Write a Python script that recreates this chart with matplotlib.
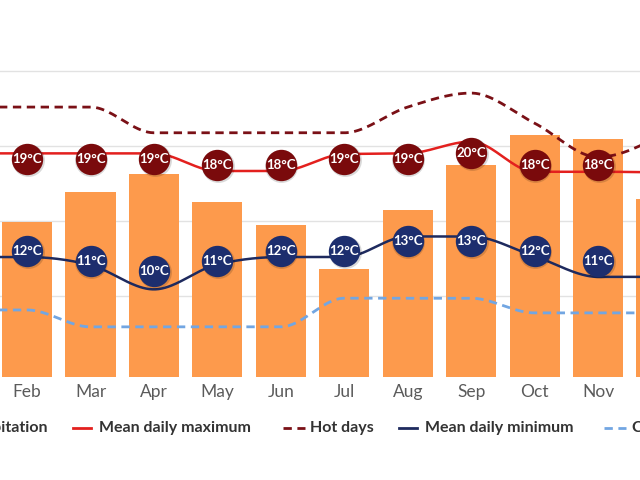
import numpy as np
import matplotlib
matplotlib.use("Agg")
import matplotlib.pyplot as plt

plt.rcParams['font.family'] = ['Lato', 'DejaVu Sans']

# monthly climate values (temperature in degC, precipitation in mm)
months = ["Jan", "Feb", "Mar", "Apr", "May", "Jun",
          "Jul", "Aug", "Sep", "Oct", "Nov", "Dec"]
precipitation = [80, 93, 111, 122, 105, 91, 65, 100, 127, 145, 143, 107]
mean_max = [19.05, 19.05, 19.05, 19.05, 17.85, 17.85,
            19.0, 19.05, 19.85, 17.8, 17.8, 17.75]
hot_days = [22.2, 22.2, 22.2, 20.45, 20.45, 20.45,
            20.45, 22.2, 23.15, 21.1, 18.8, 20.3]
mean_min = [12.0, 12.0, 11.45, 9.8, 11.5, 12.0,
            12.0, 13.4, 13.4, 12.05, 10.65, 10.65]
cold_nights = [8.4, 8.4, 7.25, 7.25, 7.25, 7.25,
               9.2, 9.2, 9.2, 8.2, 8.2, 8.2]
max_labels = [19, 19, 19, 19, 18, 18, 19, 19, 20, 18, 18, 18]
min_labels = [12, 12, 11, 10, 11, 12, 12, 13, 13, 12, 11, 11]

BAR_COLOR = "#fd9a4c"
MAX_COLOR = "#e3201e"
HOT_COLOR = "#7a1016"
MIN_COLOR = "#1e2a5e"
COLD_COLOR = "#72a6e2"
MAX_BUBBLE = "#7a0a0c"
MIN_BUBBLE = "#1d2e6e"
GRID = [9.35, 14.45, 19.55, 24.65]
T_LIM = (3.84, 25.4)
P_TOP = 190.2


def monotone(y, n=40):
    # monotone cubic interpolation (same idea as d3.curveMonotoneX)
    y = np.asarray(y, dtype=float)
    x = np.arange(len(y), dtype=float)
    s = np.diff(y)
    t = np.zeros(len(y))
    for i in range(1, len(y) - 1):
        s0, s1 = s[i - 1], s[i]
        p = (s0 + s1) / 2
        t[i] = (np.sign(s0) + np.sign(s1)) * min(abs(s0), abs(s1), 0.5 * abs(p))
    t[0] = (3 * s[0] - t[1]) / 2
    t[-1] = (3 * s[-1] - t[-2]) / 2
    xs, ys = [], []
    for i in range(len(y) - 1):
        u = np.linspace(0, 1, n, endpoint=False)
        h00 = 2 * u**3 - 3 * u**2 + 1
        h10 = u**3 - 2 * u**2 + u
        h01 = -2 * u**3 + 3 * u**2
        h11 = u**3 - u**2
        xs.append(x[i] + u)
        ys.append(h00 * y[i] + h10 * t[i] + h01 * y[i + 1] + h11 * t[i + 1])
    xs.append([x[-1]])
    ys.append([y[-1]])
    return np.concatenate(xs), np.concatenate(ys)


fig = plt.figure(figsize=(6.4, 4.8), dpi=100)
# the chart is wider than the picture, Jan and Dec fall outside
ax = fig.add_axes([-0.1064, 1 - 377 / 480, 1.1895, 317 / 480])
ax_p = ax.twinx()
ax.set_zorder(2)
ax_p.set_zorder(1)
ax.patch.set_visible(False)

x = np.arange(len(months))
ax_p.bar(x, precipitation, width=0.79, color=BAR_COLOR, zorder=1)
ax_p.set_ylim(0, P_TOP)
ax_p.set_yticks([])
# grid lines sit below the bars, so they go on the bar axes
for gy in GRID:
    ax_p.axhline((gy - T_LIM[0]) / (T_LIM[1] - T_LIM[0]) * P_TOP,
                 color="#e2e2e2", lw=1, zorder=0)

ax.set_xlim(-0.5, 11.5)
ax.set_ylim(*T_LIM)
ax.set_yticks([])
for a in (ax, ax_p):
    for sp in a.spines.values():
        sp.set_visible(False)
    a.tick_params(length=0, labelleft=False, labelright=False, labelbottom=False)

xs, ys = monotone(cold_nights)
ax.plot(xs, ys, color=COLD_COLOR, lw=2, dashes=(3, 2), zorder=3)
xs, ys = monotone(hot_days)
ax.plot(xs, ys, color=HOT_COLOR, lw=2, dashes=(3, 2), zorder=3)
xs, ys = monotone(mean_min)
ax.plot(xs, ys, color=MIN_COLOR, lw=1.8, zorder=3)
xs, ys = monotone(mean_max)
ax.plot(xs, ys, color=MAX_COLOR, lw=1.8, zorder=3)


def in_view(xi):
    # Jan and Dec are outside the cropped picture, skip their texts
    px = ax.transData.transform((xi, T_LIM[0]))[0]
    return 0 <= px <= fig.bbox.width


def bubbles(labels, anchor, centre, k, color):
    lab = np.asarray(labels, dtype=float)
    # bubbles are pulled together a bit toward the middle of the series
    yb = anchor + k * (lab - centre)
    ax.scatter(x + 0.01, yb - 0.06, s=560, color="black", alpha=0.15,
               linewidths=0, zorder=4)
    ax.scatter(x, yb, s=510, color=color, linewidths=0, zorder=5)
    for xi, yi, v in zip(x, yb, labels):
        if in_view(xi):
            ax.text(xi, yi, f"{v}°C", color="white", fontsize=9.5,
                    fontweight="bold", ha="center", va="center", zorder=6)


bubbles(max_labels, 18.53, 18.7, 0.40, MAX_BUBBLE)
bubbles(min_labels, 12.2, 11.7, 0.67, MIN_BUBBLE)

trans = ax.get_xaxis_transform()
for xi, m in zip(x, months):
    if in_view(xi):
        ax.text(xi, -15 / 317, m, transform=trans, ha="center", va="center",
                fontsize=12.5, color="#5b5b5b")

# legend row, partly cut off like the chart itself
lg = fig.add_axes([0, 0, 1, 1], zorder=10)
lg.set_xlim(0, 640)
lg.set_ylim(480, 0)
lg.axis("off")
lg.patch.set_visible(False)
ty = 428
tstyle = dict(fontsize=11.5, fontweight="bold", color="#333333", va="center")
lg.text(48, ty, "Precipitation", ha="right", **tstyle)
lg.plot([73, 91], [ty, ty], color=MAX_COLOR, lw=2)
lg.text(99, ty, "Mean daily maximum", ha="left", **tstyle)
lg.plot([283, 305], [ty, ty], color=HOT_COLOR, lw=2, dashes=(3, 2))
lg.text(310, ty, "Hot days", ha="left", **tstyle)
lg.plot([399, 417], [ty, ty], color=MIN_COLOR, lw=2)
lg.text(425, ty, "Mean daily minimum", ha="left", **tstyle)
lg.plot([604, 626], [ty, ty], color=COLD_COLOR, lw=2, dashes=(3, 2))
lg.text(632, ty, "Cold nights", ha="left", **tstyle)

fig.savefig("out.png", dpi=100)
